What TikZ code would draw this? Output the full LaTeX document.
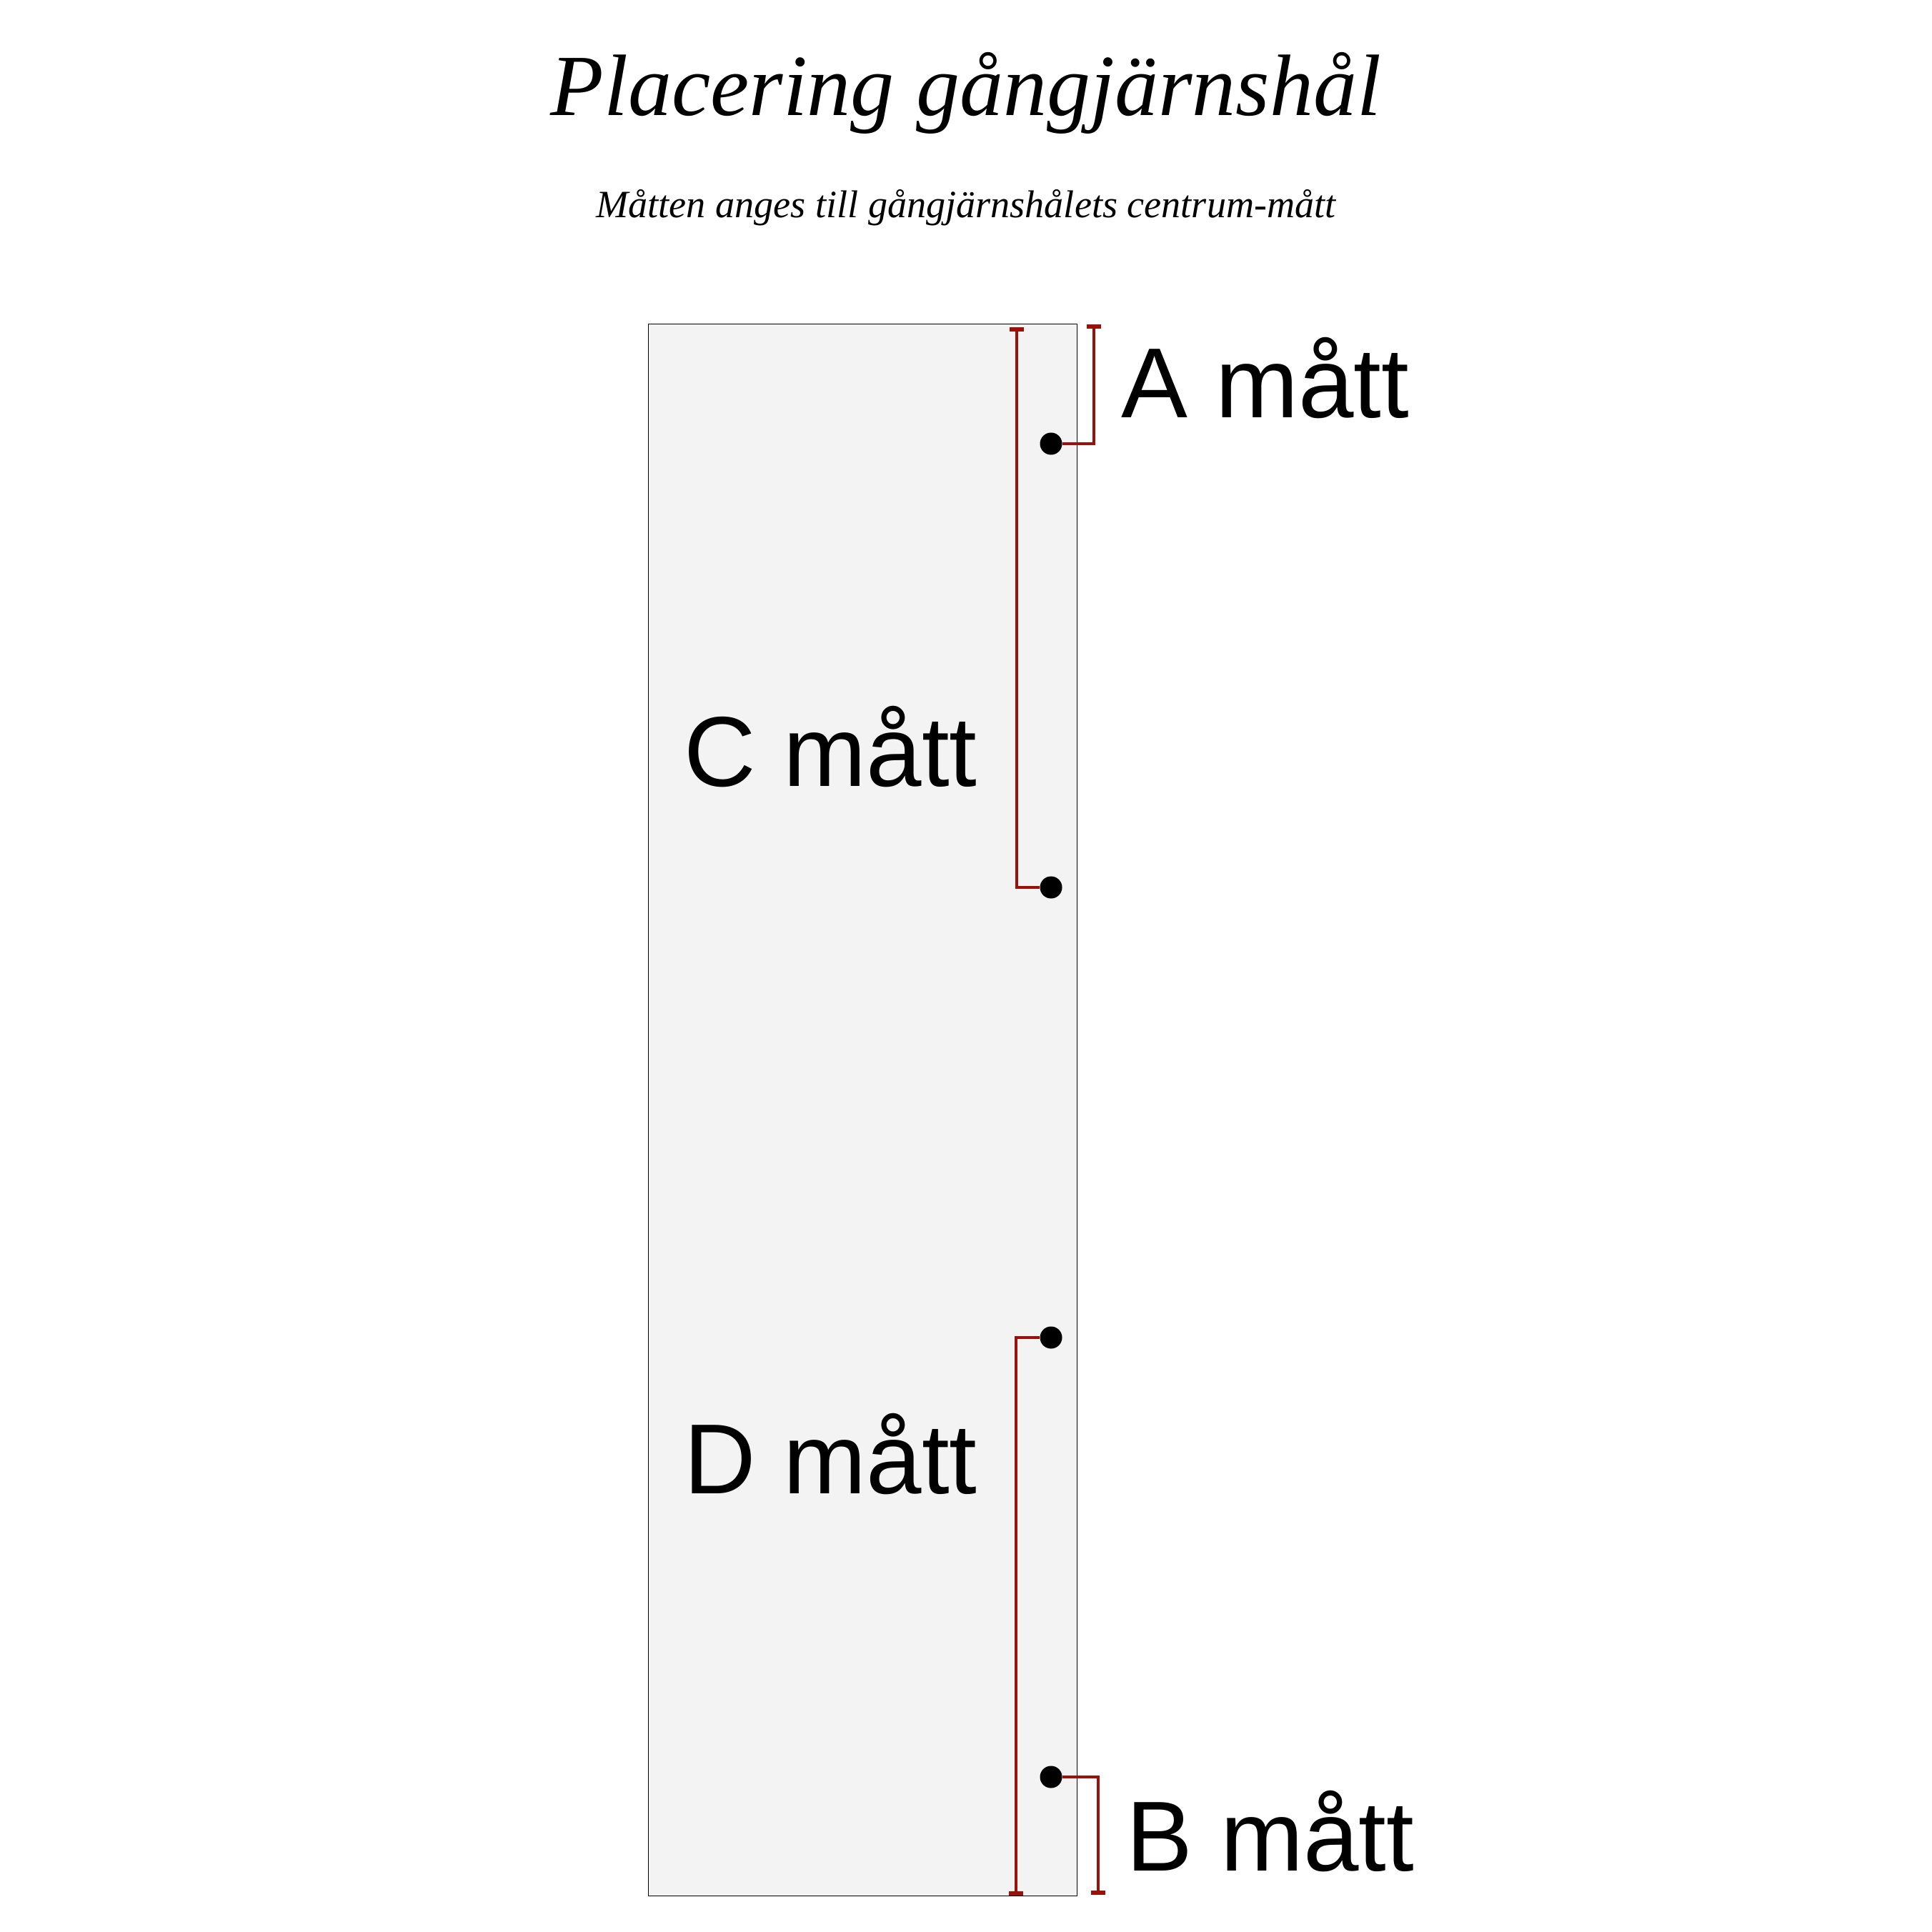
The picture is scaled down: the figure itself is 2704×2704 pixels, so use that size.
\documentclass[tikz,border=0pt]{standalone}
\usepackage{fontspec}
\setmainfont{Liberation Serif}
\newfontfamily\labelfont{Liberation Sans}
\usetikzlibrary{arrows.meta}
\definecolor{hingered}{RGB}{155,17,10}
\definecolor{doorgray}{RGB}{243,243,243}

\begin{document}
\begin{tikzpicture}
  [x=0.01cm,y=-0.01cm,
   door/.style={draw=black,line width=0.3pt,fill=doorgray,minimum width=5.99cm,minimum height=21.99cm,inner sep=0},
   hole/.style={circle,fill=black,minimum size=0.31cm,inner sep=0},
   matt/.style={anchor=base west,inner sep=0,font=\labelfont\fontsize{39.6}{48}\selectfont},
   dim/.style={draw=hingered,line width=1.15pt},
   tick/.style={-{Bar[width=0.2cm,line width=1.6pt 0]}}]

  \useasboundingbox (0,0) rectangle (2704,2704);

  \node[door] (door) at (1207.5,1553.5) {};

  \node[anchor=base,inner sep=0,font=\itshape\fontsize{34.7}{40}\selectfont] (title) at (1352,162) {Placering gångjärnshål};
  \node[anchor=base,inner sep=0,font=\itshape\fontsize{15.4}{18}\selectfont] (subtitle) at (1352,305) {Måtten anges till gångjärnshålets centrum-mått};

  \foreach \name/\y in {hA/621,hC/1242,hD/1872,hB/2487}
    \node[hole] (\name) at (1471,\y) {};

  \coordinate (aEnd) at (1531,454);
  \coordinate (cEnd) at (1423,458);
  \coordinate (dEnd) at (1422,2653);
  \coordinate (bEnd) at (1537,2652);

  \draw[dim,tick] (hA) -| (aEnd);
  \draw[dim,tick] (hC) -| (cEnd);
  \draw[dim,tick] (hD) -| (dEnd);
  \draw[dim,tick] (hB) -| (bEnd);

  \node[matt] (lA) at (1569,585) {A mått};
  \node[matt] (lC) at (957,1100) {C mått};
  \node[matt] (lD) at (957,2090) {D mått};
  \node[matt] (lB) at (1576,2618) {B mått};
\end{tikzpicture}
\end{document}
